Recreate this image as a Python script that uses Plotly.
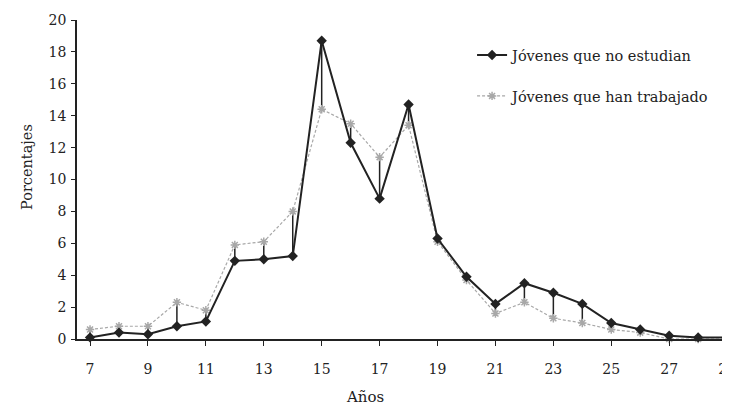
import plotly.graph_objects as go

edades = list(range(7, 30))
no_estudian = [0.1, 0.4, 0.3, 0.8, 1.1, 4.9, 5.0, 5.2, 18.7, 12.3, 8.8, 14.7,
               6.3, 3.9, 2.2, 3.5, 2.9, 2.2, 1.0, 0.6, 0.2, 0.1, 0.1]
han_trabajado = [0.6, 0.8, 0.8, 2.3, 1.8, 5.9, 6.1, 8.0, 14.4, 13.5, 11.4, 13.4,
                 6.1, 3.7, 1.6, 2.3, 1.3, 1.0, 0.6, 0.4, 0.0, 0.0, 0.0]
tick_vals = list(range(7, 30, 2))
tick_text = [str(v) for v in tick_vals]

FONT = "DejaVu Serif"
INK = "#222222"

# high-low connector lines between the two series
cx, cy = [], []
for x, a, b in zip(edades, no_estudian, han_trabajado):
    cx += [x, x, None]
    cy += [a, b, None]

fig = go.Figure()
fig.add_trace(go.Scatter(x=cx, y=cy, mode="lines", line=dict(color=INK, width=1.5),
                         showlegend=False, hoverinfo="skip", cliponaxis=False))
fig.add_trace(go.Scatter(x=edades, y=han_trabajado, mode="lines+markers",
                         name="Jóvenes que han trabajado", legendgroup="b", legendrank=2,
                         line=dict(color="#a8a8a8", width=1.2, dash="3px,2px"),
                         marker=dict(symbol="asterisk-open", size=7,
                                     line=dict(color="#9a9a9a", width=1.5)),
                         cliponaxis=False))
fig.add_trace(go.Scatter(x=edades, y=no_estudian, mode="lines+markers",
                         name="Jóvenes que no estudian", legendgroup="a", legendrank=1,
                         line=dict(color=INK, width=2),
                         marker=dict(symbol="diamond", size=8, color=INK),
                         cliponaxis=False))

# the page adds an 8 px body margin, so the figure is 8 px smaller than the window
fig.update_layout(
    width=722, height=403,
    margin=dict(l=69, r=0, t=12, b=72, autoexpand=False),
    paper_bgcolor="white", plot_bgcolor="white",
    font=dict(family=FONT, size=14, color=INK),
    showlegend=True,
    legend=dict(x=0.605, y=0.94, xanchor="left", yanchor="top",
                traceorder="grouped", tracegroupgap=19,
                font=dict(family=FONT, size=14.5, color=INK),
                bgcolor="rgba(0,0,0,0)", itemwidth=30),
    xaxis=dict(range=[6.55, 29.1], tickvals=tick_vals, ticktext=tick_text,
               showgrid=False, zeroline=False, showline=True, linecolor=INK,
               linewidth=1.5, ticks="outside", ticklen=5, tickcolor=INK, automargin=False,
               ticklabeloverflow="allow",
               ticklabelstandoff=11, tickfont=dict(family=FONT, size=14, color=INK)),
    yaxis=dict(range=[0, 20], tickvals=list(range(0, 21, 2)),
               showgrid=False, zeroline=False, showline=True, linecolor=INK,
               linewidth=1.5, ticks="outside", ticklen=4, tickcolor=INK, automargin=False,
               ticklabelstandoff=2, tickfont=dict(family=FONT, size=14, color=INK)),
    annotations=[
        dict(text="Porcentajes", xref="paper", yref="paper", x=(27 - 77) / 653,
             y=(339 - 167) / 319, xanchor="center", yanchor="middle", textangle=-90,
             showarrow=False, font=dict(family=FONT, size=14.5, color=INK)),
        dict(text="Años", xref="paper", yref="paper", x=(365 - 77) / 653,
             y=(339 - 397) / 319, xanchor="center", yanchor="middle", showarrow=False,
             font=dict(family=FONT, size=15, color=INK)),
    ],
)

fig.write_html("out.html")
